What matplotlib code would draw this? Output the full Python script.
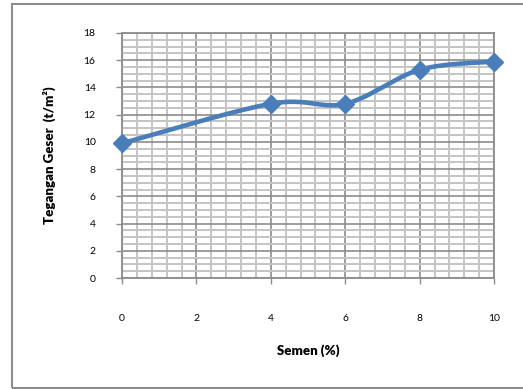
import numpy as np
import matplotlib.pyplot as plt
from matplotlib.patches import Rectangle
from matplotlib.ticker import MultipleLocator

semen = [0, 4, 6, 8, 10]
tegangan = [9.9, 12.8, 12.8, 15.3, 15.9]

biru = '#4a7ebb'

plt.rcParams['font.family'] = ['Lato', 'DejaVu Sans']

fig = plt.figure(figsize=(5.23, 3.89), dpi=100)
ax = fig.add_axes([0.2333, 0.2853, 0.7113, 0.6299])

# kurva halus (bezier ala excel) lewat titik data
x = np.array(semen, dtype=float)
y = np.array(tegangan, dtype=float)
px = np.concatenate([[x[0]], x, [x[-1]]])
py = np.concatenate([[y[0]], y, [y[-1]]])
t = np.linspace(0, 1, 40)
cx, cy = [], []
for i in range(len(x) - 1):
    p0 = np.array([x[i], y[i]])
    p3 = np.array([x[i + 1], y[i + 1]])
    p1 = p0 + (np.array([px[i + 2], py[i + 2]]) - np.array([px[i], py[i]])) / 6
    p2 = p3 - (np.array([px[i + 3], py[i + 3]]) - np.array([px[i + 1], py[i + 1]])) / 6
    b = ((1 - t)**3)[:, None] * p0 + (3 * (1 - t)**2 * t)[:, None] * p1 \
        + (3 * (1 - t) * t**2)[:, None] * p2 + (t**3)[:, None] * p3
    cx.extend(b[:, 0])
    cy.extend(b[:, 1])

ax.plot(cx, cy, color=biru, lw=3.3, solid_capstyle='round', zorder=3, clip_on=False)
ax.plot(semen, tegangan, 'D', color=biru, markersize=9.5, zorder=4, clip_on=False)

ax.set_xlim(0, 10)
ax.set_ylim(0, 18)
ax.xaxis.set_major_locator(MultipleLocator(2))
ax.yaxis.set_major_locator(MultipleLocator(2))
ax.xaxis.set_minor_locator(MultipleLocator(0.4))
ax.yaxis.set_minor_locator(MultipleLocator(0.5))

ax.grid(which='major', color='#8c8c8c', lw=1.2)
ax.grid(which='minor', color='#c4c4c4', lw=1.4)
ax.set_axisbelow(True)

for s in ax.spines.values():
    s.set_color('#8c8c8c')
    s.set_linewidth(1.3)

ax.tick_params(which='major', length=4, width=1, color='#8c8c8c', labelsize=7.5,
               labelcolor='black')
ax.tick_params(which='minor', length=0)
ax.tick_params(axis='x', pad=22)
ax.tick_params(axis='y', pad=15)

ax.set_xlabel('Semen (%)', fontsize=9.5, fontweight='heavy', labelpad=15)
ax.set_ylabel('Tegangan Geser  (t/m²)', fontsize=9.5, fontweight='heavy', labelpad=20)

# bingkai area grafik
fig.patches.append(Rectangle((12 / 523, 1 / 389), 1.2, 1 - 5 / 389,
                             transform=fig.transFigure, fill=False,
                             edgecolor='#8c8c8c', lw=1.5))

fig.savefig('out.png', dpi=100)
